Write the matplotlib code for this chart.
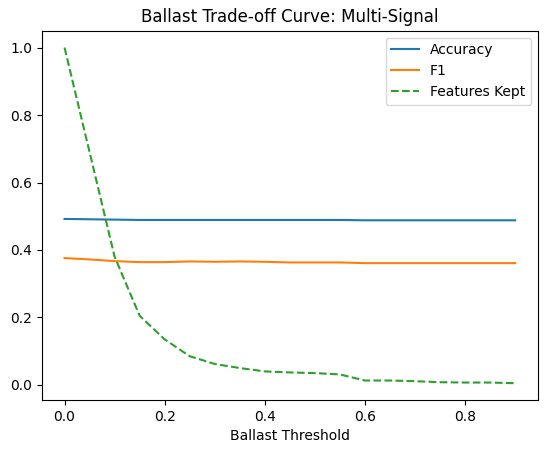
import matplotlib
matplotlib.use("Agg")
import matplotlib.pyplot as plt

thresholds = [0.0, 0.05, 0.1, 0.15, 0.2, 0.25, 0.3, 0.35, 0.4, 0.45, 0.5, 0.55, 0.6, 0.65, 0.7, 0.75, 0.8, 0.85, 0.9]
accuracy = [0.492, 0.491, 0.490, 0.489, 0.489, 0.489, 0.489, 0.489, 0.489, 0.489, 0.489, 0.489, 0.488, 0.488, 0.488, 0.488, 0.488, 0.488, 0.488]
f1 = [0.376, 0.372, 0.367, 0.364, 0.364, 0.366, 0.365, 0.366, 0.365, 0.363, 0.363, 0.363, 0.361, 0.361, 0.361, 0.361, 0.361, 0.361, 0.361]
features_kept = [1.0, 0.69, 0.38, 0.205, 0.135, 0.085, 0.062, 0.05, 0.04, 0.037, 0.035, 0.031, 0.013, 0.013, 0.011, 0.008, 0.007, 0.007, 0.005]

fig, ax = plt.subplots(figsize=(5.47, 4.53), dpi=100)
ax.plot(thresholds, accuracy, label="Accuracy")
ax.plot(thresholds, f1, label="F1")
ax.plot(thresholds, features_kept, "--", label="Features Kept")
ax.set_title("Ballast Trade-off Curve: Multi-Signal")
ax.set_xlabel("Ballast Threshold")
ax.legend()
fig.subplots_adjust(left=0.0768, right=0.983, top=0.932, bottom=0.117)
fig.savefig("out.png")
